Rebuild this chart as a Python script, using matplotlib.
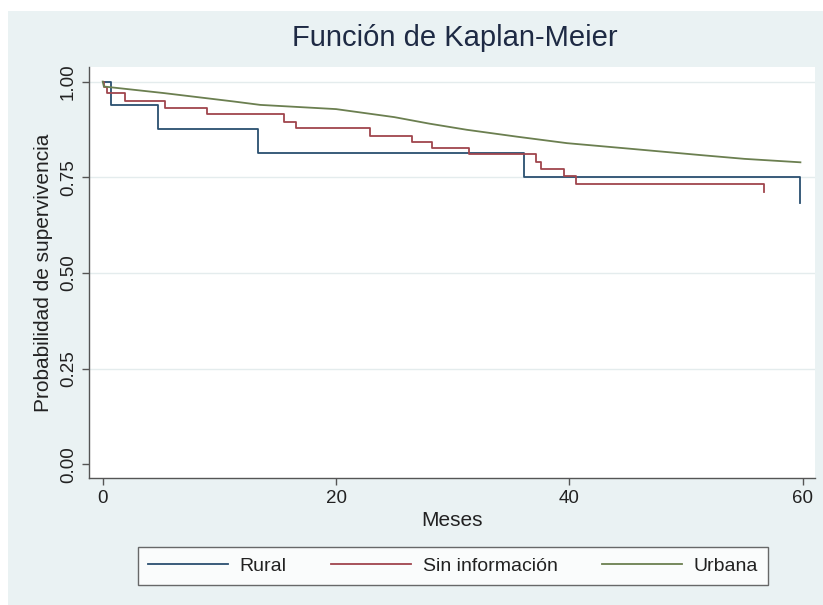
import matplotlib
matplotlib.use("Agg")
import matplotlib.pyplot as plt
from matplotlib.patches import Rectangle

# ---- data ----
rural_t = [0, 0.7, 4.7, 13.3, 36.1, 59.8]
rural_s = [1.0, 0.9375, 0.875, 0.8125, 0.75, 0.682]

sininfo_t = [0, 0.1, 0.34, 1.9, 5.3, 8.9, 15.5, 16.6, 22.9, 26.5, 28.2, 31.4,
             37.1, 37.6, 39.5, 40.6, 56.7]
sininfo_s = [1.0, 0.985, 0.970, 0.948, 0.930, 0.916, 0.895, 0.878, 0.858, 0.843,
             0.826, 0.811, 0.791, 0.771, 0.752, 0.733, 0.712]

urbana_t = [0, 0.1, 5.2, 11.2, 13.5, 20.0, 25.0, 28.0, 31.2, 35.5, 39.8, 45.0,
            51.2, 55.0, 59.8]
urbana_s = [1.0, 0.987, 0.970, 0.948, 0.939, 0.928, 0.907, 0.890, 0.874, 0.856,
            0.839, 0.825, 0.808, 0.798, 0.789]

series_names = ["Rural", "Sin información", "Urbana"]
x_ticks = [0, 20, 40, 60]
y_ticks = [0.0, 0.25, 0.5, 0.75, 1.0]
y_ticklabels = ["0.00", "0.25", "0.50", "0.75", "1.00"]

title = "Función de Kaplan-Meier"
xlabel = "Meses"
ylabel = "Probabilidad de supervivencia"

# ---- style ----
plt.rcParams['font.family'] = ['Liberation Sans', 'DejaVu Sans']
W, H = 823, 605
fig = plt.figure(figsize=(W / 100, H / 100), dpi=100, facecolor="white")
bg = "#eaf2f3"
fig.patches.append(Rectangle((8 / W, 0), 1 - 8 / W, 1 - 11 / H,
                             transform=fig.transFigure, facecolor=bg,
                             edgecolor="none", zorder=-10))

left, right = 89.3 / W, 815 / W
bottom, top = 1 - 477.7 / H, 1 - 67 / H
ax = fig.add_axes([left, bottom, right - left, top - bottom])
ax.set_facecolor("white")

colors = ["#2a4f70", "#a0454d", "#6b7f50"]

ax.step(rural_t, rural_s, where="post", color=colors[0], lw=1.3, label=series_names[0], zorder=3)
ax.step(sininfo_t, sininfo_s, where="post", color=colors[1], lw=1.3, label=series_names[1], zorder=3)
ax.plot(urbana_t, urbana_s, color=colors[2], lw=1.3, label=series_names[2], zorder=3)

ax.set_xlim(-1.15, 61.05)
ax.set_ylim(-0.035, 1.038)

for yv in [0.25, 0.5, 0.75, 1.0]:
    ax.axhline(yv, color="#e4eced", lw=1.0, zorder=1)

for s in ["top", "right"]:
    ax.spines[s].set_visible(False)
for s in ["left", "bottom"]:
    ax.spines[s].set_color("#555555")
    ax.spines[s].set_linewidth(1.0)

ax.set_xticks(x_ticks)
ax.set_xticklabels([str(v) for v in x_ticks], fontsize=13.5)
ax.set_yticks(y_ticks)
ax.set_yticklabels(y_ticklabels, fontsize=13.5, rotation=90, va="center")
ax.tick_params(axis="both", colors="#555555", length=5, width=1.0, labelcolor="#222222")
ax.tick_params(axis="x", pad=4)
ax.tick_params(axis="y", pad=4)

ax.set_xlabel(xlabel, fontsize=15, color="#222222", labelpad=3)
ax.set_ylabel(ylabel, fontsize=15, color="#222222", labelpad=5)

fig.text(0.5 * (left + right) + 0.003, 1 - 38 / H, title, fontsize=21,
         color="#1e2a44", ha="center", va="center")

leg = fig.legend(loc="center", bbox_to_anchor=(453 / W, 1 - 566 / H), ncol=3,
                 fontsize=14, frameon=True, fancybox=False, handlelength=4.1,
                 handletextpad=0.6, columnspacing=2.3, borderpad=0.5)
leg.get_frame().set_edgecolor("#444444")
leg.get_frame().set_linewidth(1.0)
leg.get_frame().set_facecolor("white")
for t in leg.get_texts():
    t.set_color("#222222")

fig.savefig("out.png", dpi=100, facecolor=fig.get_facecolor())
